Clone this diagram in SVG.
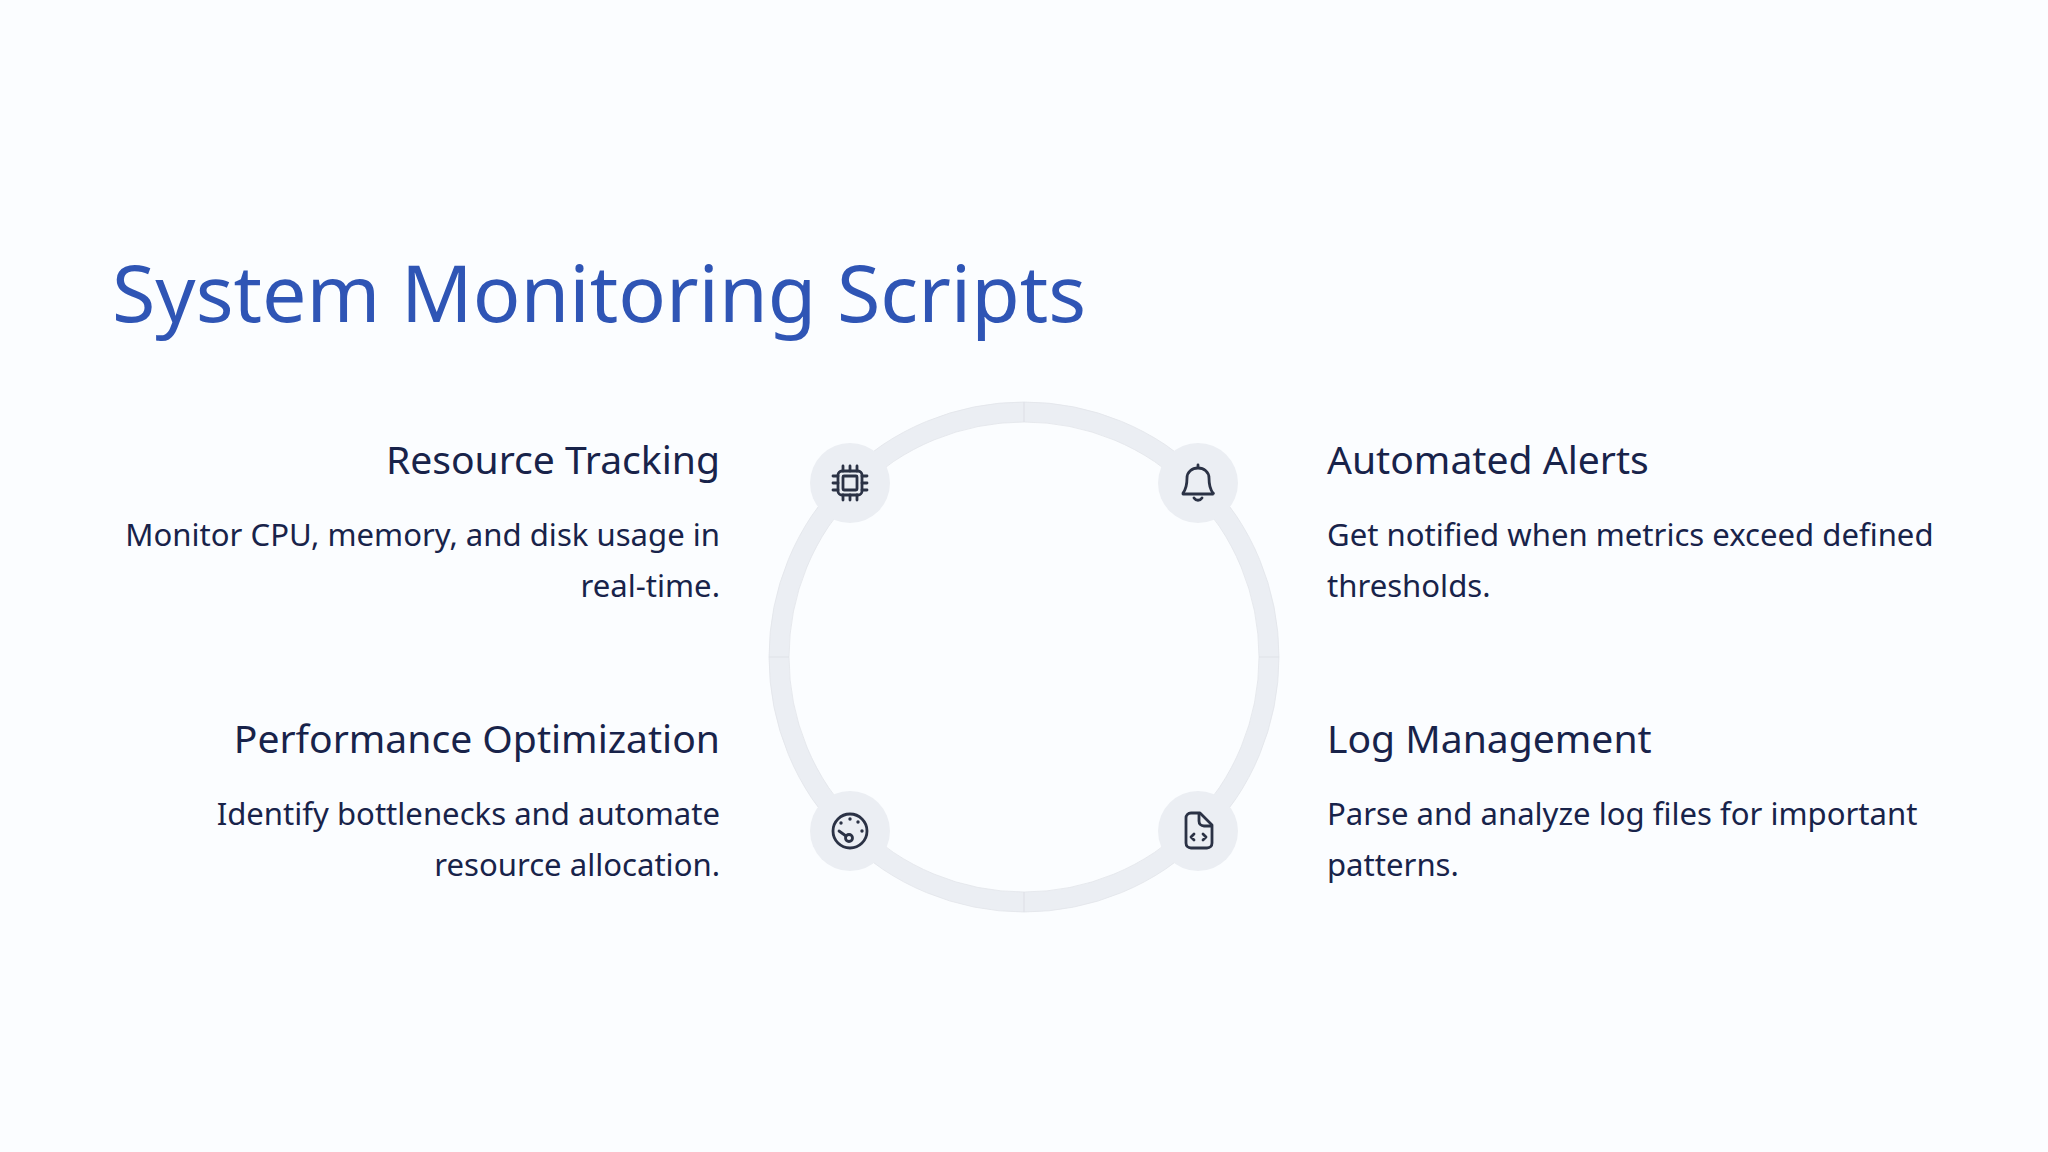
<svg xmlns="http://www.w3.org/2000/svg" width="2048" height="1152" viewBox="0 0 2048 1152">
<style>
text{font-family:"Noto Sans",sans-serif;fill:#18234a}
.t{font-size:79px;fill:#2f55b5}
.h{font-size:39.1px}
.b{font-size:31.1px}
.e{text-anchor:end}
.n{fill:#ebeef3}
.i{fill:none;stroke:#2b3245;stroke-width:2.8;stroke-linecap:round;stroke-linejoin:round}
.d{fill:#2b3245}
.r{fill:none;stroke:#e2e4ea;stroke-width:.8}
</style>
<rect width="2048" height="1152" fill="#fbfdff"/>
<text class="t" x="112" y="322">System Monitoring Scripts</text>
<g id="connectors">
<circle cx="1024" cy="657" r="245" fill="none" stroke="#ebeef3" stroke-width="20"/>
<circle class="r" cx="1024" cy="657" r="255"/>
<circle class="r" cx="1024" cy="657" r="235"/>
<path d="M1024 402V422M1024 892V912M769 657H789M1259 657H1279" stroke="#e0e2e8" stroke-width="1.2" fill="none"/>
</g>
<g id="node-resource">
<circle class="n" cx="850" cy="483" r="40"/>
<rect class="i" x="838" y="471" width="24" height="24" rx="4"/>
<rect class="i" x="843" y="476" width="14" height="14" rx="1"/>
<path class="i" d="M843 466V471M850 466V471M857 466V471M843 495V500M850 495V500M857 495V500M833 476H838M833 483H838M833 490H838M862 476H867M862 483H867M862 490H867"/>
<text class="h e" x="720" y="474">Resource Tracking</text>
<text class="b e" x="720" y="546">Monitor CPU, memory, and disk usage in</text>
<text class="b e" x="720" y="597">real-time.</text>
</g>
<g id="node-alerts">
<circle class="n" cx="1198" cy="483" r="40"/>
<path class="i" d="M1183 493C1187 488 1187 482 1187 478C1187 472 1192 468 1198 468C1204 468 1209 472 1209 478C1209 482 1209 488 1213 493C1214 494 1213 493 1213 494H1183C1183 493 1183 493 1183 493Z"/>
<path class="i" d="M1198 465V467M1194 498C1196 501 1200 501 1202 498"/>
<text class="h" x="1327" y="474">Automated Alerts</text>
<text class="b" x="1327" y="546">Get notified when metrics exceed defined</text>
<text class="b" x="1327" y="597">thresholds.</text>
</g>
<g id="node-performance">
<circle class="n" cx="850" cy="831" r="40"/>
<circle class="i" cx="850" cy="831" r="17"/>
<circle class="i" cx="849" cy="838" r="3.5" stroke-width="2.5"/>
<path class="i" d="M846 836L839 831"/>
<circle class="d" cx="841" cy="823" r="1.7"/><circle class="d" cx="850" cy="819" r="1.7"/><circle class="d" cx="858" cy="822" r="1.7"/><circle class="d" cx="862" cy="831" r="1.7"/>
<text class="h e" x="720" y="753">Performance Optimization</text>
<text class="b e" x="720" y="825">Identify bottlenecks and automate</text>
<text class="b e" x="720" y="876">resource allocation.</text>
</g>
<g id="node-log">
<circle class="n" cx="1198" cy="831" r="40"/>
<path class="i" d="M1198 813H1191C1188 813 1186 815 1186 818V843C1186 846 1188 848 1191 848H1207C1210 848 1212 846 1212 843V825L1200 813Z"/>
<path class="i" d="M1199 814V821C1199 824 1201 826 1204 826H1211"/>
<path class="i" d="M1194 834L1191 837L1194 840M1203 834L1206 837L1203 840"/>
<text class="h" x="1327" y="753">Log Management</text>
<text class="b" x="1327" y="825">Parse and analyze log files for important</text>
<text class="b" x="1327" y="876">patterns.</text>
</g>
</svg>
